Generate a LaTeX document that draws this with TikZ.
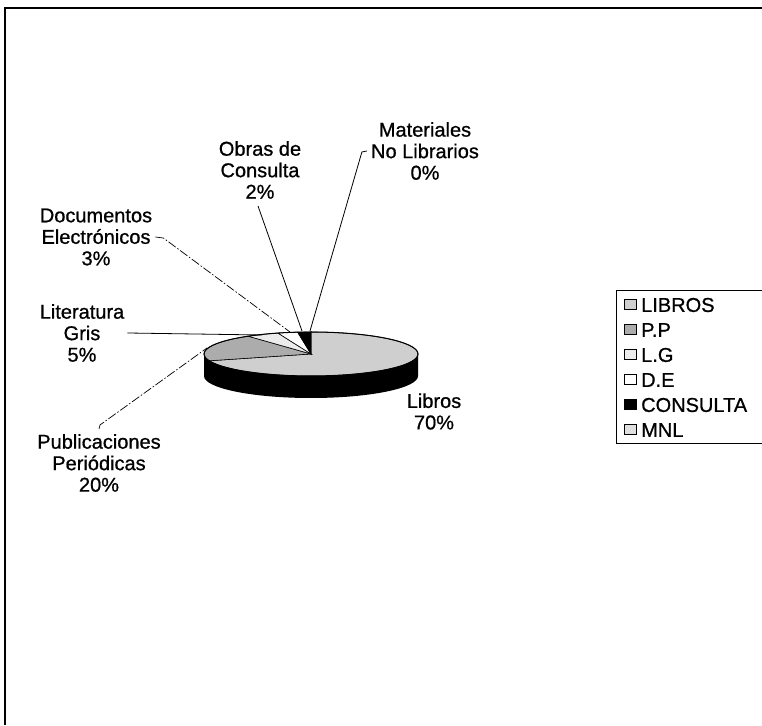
\documentclass[tikz,border=0pt]{standalone}
\usepackage{fontspec}
\setmainfont{Liberation Sans}
\newfontfamily\lblfont{Liberation Sans}[FakeBold=0.8]
\begin{document}
\begin{tikzpicture}[x=1pt,y=1pt,
  lbl/.style={font=\lblfont\fontsize{20}{21.5}\selectfont, align=center, inner sep=0pt},
  leader/.style={line width=0.8pt},
  brokenleader/.style={line width=0.7pt, dash pattern=on 9pt off 2pt on 1.5pt off 2pt},
  legtext/.style={font=\lblfont\fontsize{20}{21}\selectfont, anchor=west, inner sep=0pt},
  legicon/.style={draw=black, line width=1pt, minimum width=12pt, minimum height=10pt, inner sep=0pt},
  slice/.style={draw=black, line width=0.6pt},
  pie/.style={x radius=107pt, y radius=22pt}]
\useasboundingbox (0,0) rectangle (762,725);
\fill[white] (0,0) rectangle (762,725);
% outer frame (left and top edges)
\draw[line width=2pt] (5,0) -- (5,717) -- (762,717);

% ---- 3D pie ----
\coordinate (C) at (311,371);
% side band
\fill[black] (204,371) -- (204,349)
  arc[start angle=180, end angle=360, pie]
  -- (418,371)
  arc[start angle=0, end angle=-180, pie] -- cycle;
% top face slices (clockwise from 12 o'clock)
\filldraw[slice, fill=gray!38] (C) -- +(90:107pt and 22pt)
  arc[start angle=90, end angle=-162, pie] -- cycle;
\filldraw[slice, fill=gray!65] (C) -- +(-162:107pt and 22pt)
  arc[start angle=-162, end angle=-234, pie] -- cycle;
\filldraw[slice, fill=gray!15] (C) -- +(126:107pt and 22pt)
  arc[start angle=126, end angle=108, pie] -- cycle;
\filldraw[slice, fill=white] (C) -- +(108:107pt and 22pt)
  arc[start angle=108, end angle=97.2, pie] -- cycle;
\filldraw[slice, fill=black] (C) -- +(97.2:107pt and 22pt)
  arc[start angle=97.2, end angle=90, pie] -- cycle;
\draw[line width=1pt] (C) ellipse[pie];

% pie anchor points for leaders
\coordinate (pMNL) at (310,394);
\coordinate (pCON) at (302,394);
\coordinate (pDE)  at (290,393);
\coordinate (pLG)  at (262,390);
\coordinate (pPP)  at (207,377);

% ---- labels ----
\node[lbl] (mnl) at (425,574) {Materiales\\No Librarios\\0\%};
\node[lbl] (con) at (260,555) {Obras de\\Consulta\\2\%};
\node[lbl] (de)  at (96,488)  {Documentos\\Electrónicos\\3\%};
\node[lbl] (lg)  at (82,392)  {Literatura\\Gris\\5\%};
\node[lbl] (pp)  at (99,262)  {Publicaciones\\Periódicas\\20\%};
\node[lbl] (lib) at (434,313.5) {Libros\\70\%};

% ---- leaders ----
\coordinate (hMNL) at ([xshift=-4pt]mnl.west);
\draw[leader] (hMNL) -- ++(-5,-1) -- (pMNL);
\coordinate (hCON) at ([xshift=-2pt,yshift=-7pt]con.south);
\draw[leader] (hCON) -- (pCON);
\coordinate (hDE) at ([xshift=3pt]de.east);
\draw[brokenleader] (hDE) -- ++(8,-1) -- (pDE);
\coordinate (hLG) at ([xshift=3pt]lg.east);
\draw[leader] (hLG) -- (pLG);
\coordinate (hPP) at ([yshift=5pt]pp.north);
\draw[brokenleader] (hPP) -- ++(1,4) -- (pPP);

% ---- legend ----
\draw[line width=1pt] (762,281) -- (616,281) -- (616,434) -- (762,434);
\node[legicon, fill=gray!38] (i1) at (630,420) {};
\node[legicon, fill=gray!65] (i2) at (630,395) {};
\node[legicon, fill=gray!15] (i3) at (630,370) {};
\node[legicon, fill=white]   (i4) at (630,345) {};
\node[legicon, fill=black]   (i5) at (630,320) {};
\node[legicon, fill=gray!25] (i6) at (630,295) {};
\node[legtext] (t1) at (641,420) {LIBROS};
\node[legtext] (t2) at (641,395) {P.P};
\node[legtext] (t3) at (641,370) {L.G};
\node[legtext] (t4) at (641,345) {D.E};
\node[legtext] (t5) at (641,320) {CONSULTA};
\node[legtext] (t6) at (641,295) {MNL};
\end{tikzpicture}
\end{document}
